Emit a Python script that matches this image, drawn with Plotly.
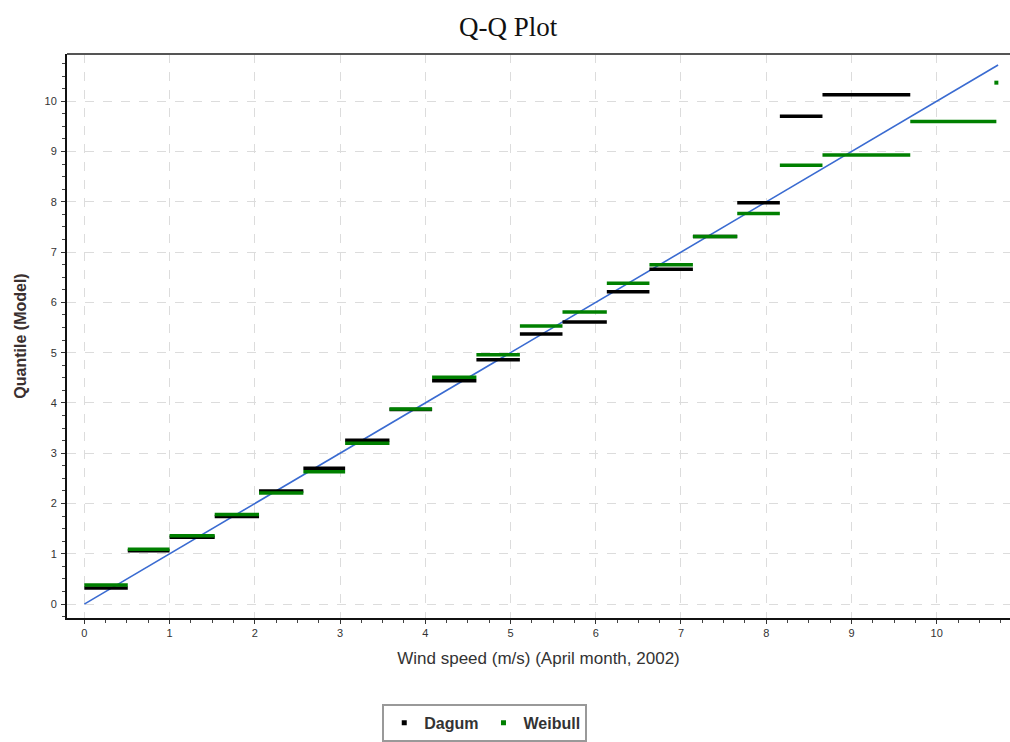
import plotly.graph_objects as go

# Observed wind-speed bin edges (m/s)
edges = [0.0, 0.51, 1.0, 1.53, 2.05, 2.57, 3.06, 3.58, 4.08, 4.60, 5.11,
         5.61, 6.13, 6.63, 7.14, 7.66, 8.16, 8.66, 9.69, 10.70]

# Model quantiles for each bin
dagum_q = [0.32, 1.06, 1.33, 1.74, 2.25, 2.70, 3.26, 3.87, 4.44, 4.86,
           5.37, 5.61, 6.21, 6.66, 7.31, 7.98, 9.70, 10.13]
weibull_q = [0.38, 1.09, 1.36, 1.78, 2.21, 2.63, 3.20, 3.88, 4.51, 4.96,
             5.53, 5.81, 6.38, 6.75, 7.31, 7.77, 8.73, 8.93, 9.60]
weibull_last_x = [10.70]
weibull_last_y = [10.37]

ref_line = [0.0, 10.72]

x_ticks = list(range(0, 11))
y_ticks = list(range(0, 11))


def steps(edges, qs):
    xs, ys = [], []
    for i, q in enumerate(qs):
        xs += [edges[i], edges[i + 1], None]
        ys += [q, q, None]
    return xs, ys


fig = go.Figure()

fig.add_trace(go.Scatter(x=ref_line, y=ref_line, mode="lines",
                         line=dict(color="#3a6bd1", width=1.6),
                         showlegend=False, hoverinfo="skip"))

dx, dy = steps(edges, dagum_q)
fig.add_trace(go.Scatter(x=dx, y=dy, mode="lines",
                         line=dict(color="#000000", width=3.5),
                         showlegend=False))
wx, wy = steps(edges, weibull_q)
fig.add_trace(go.Scatter(x=wx, y=wy, mode="lines",
                         line=dict(color="#008000", width=3.5),
                         showlegend=False))
fig.add_trace(go.Scatter(x=weibull_last_x, y=weibull_last_y, mode="markers",
                         marker=dict(color="#008000", size=4, symbol="square"),
                         showlegend=False))

# legend entries
fig.add_trace(go.Scatter(x=[None], y=[None], mode="markers", name="<b>Dagum</b>",
                         marker=dict(color="#000000", size=5, symbol="square")))
fig.add_trace(go.Scatter(x=[None], y=[None], mode="markers", name="<b>Weibull</b>",
                         marker=dict(color="#008000", size=5, symbol="square")))

axis_common = dict(
    showgrid=True, gridcolor="#dcdcdc", griddash="dash", gridwidth=1,
    zeroline=False, showline=True, linecolor="#111111", linewidth=2,
    ticks="outside", ticklen=4, tickcolor="#333333",
    tickfont=dict(family="Arial", size=11, color="#333333"),
    minor=dict(ticks="outside", ticklen=3, tickcolor="#444444", dtick=0.25,
               showgrid=False),
)

fig.update_xaxes(range=[-0.203, 10.86], tickvals=x_ticks,
                 title=dict(text="Wind speed (m/s) (April month, 2002)",
                            font=dict(family="Arial", size=17, color="#333333"),
                            standoff=14),
                 **axis_common)
fig.update_yaxes(range=[-0.276, 10.94], tickvals=y_ticks, ticklabelstandoff=2,
                 title=dict(text="<b>Quantile (Model)</b>",
                            font=dict(family="Arial", size=16, color="#3a3030"),
                            standoff=14),
                 **axis_common)

fig.add_shape(type="line", xref="paper", yref="paper", x0=0, x1=1, y0=1, y1=1,
              line=dict(color="#555555", width=2))

fig.update_layout(
    width=1010, height=742,
    margin=dict(l=67, r=0, t=54, b=120),
    plot_bgcolor="white", paper_bgcolor="white",
    title=dict(text="Q-Q Plot", x=0.503, xanchor="center", y=0.964,
               yanchor="middle",
               font=dict(family="Liberation Serif", size=27, color="#111111")),
    legend=dict(orientation="h", x=0.443, xanchor="center", y=-0.152,
                yanchor="top", bordercolor="#999999", borderwidth=2,
                font=dict(family="Arial", size=16, color="#333333"),
                itemwidth=30, tracegroupgap=0),
    showlegend=True,
)

fig.write_html("out.html")
